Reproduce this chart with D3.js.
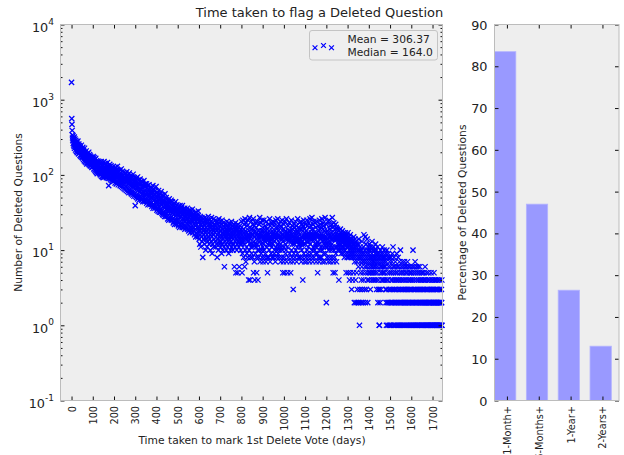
<!DOCTYPE html>
<html><head><meta charset="utf-8">
<script src="https://cdn.jsdelivr.net/npm/d3@7"></script>
<style>
body{margin:0;background:#fff;}
text{font-family:"DejaVu Sans",sans-serif;fill:#222;}
</style>
</head><body>
<svg id="c" width="624" height="455"></svg>
<script>
const chartTitle = "Time taken to flag a Deleted Question";
const xLabel = "Time taken to mark 1st Delete Vote (days)";
const yLabelLeft = "Number of Deleted Questions";
const yLabelRight = "Percentage of Deleted Questions";
const legendLines = ["Mean = 306.37", "Median = 164.0"];
const firstDay = 0;
// number of deleted questions per day (index = day)
const counts = [
1700,560,470,390,340,310,285,330,262,305,250,296,238,318,226,272,300,244,265,214,288,232,256,205,276,
228,264,198,250,218,282,208,240,190,258,222,196,246,212,230,182,236,200,224,176,214,248,188,206,172,
220,194,168,232,186,204,160,212,178,196,154,226,172,188,150,200,166,182,146,208,162,176,140,190,158,
182,146,194,160,176,140,200,156,170,136,186,152,166,132,178,148,160,130,172,144,156,126,168,140,150,
162,128,176,144,154,120,170,138,148,116,160,132,142,112,166,128,138,108,154,124,134,104,148,120,130,
152,118,136,108,148,124,132,104,144,120,128,100,140,116,122,150,96,134,112,118,94,130,108,114,92,
134,104,120,150,98,116,128,94,112,142,100,124,108,136,92,118,130,102,114,146,96,110,126,90,120,
72,116,128,96,108,138,90,104,120,86,112,132,94,106,124,84,100,118,90,110,128,82,98,114,88,
104,120,84,96,112,78,100,126,88,94,110,76,102,118,82,92,130,80,98,108,74,96,114,86,90,
100,80,88,116,72,94,106,76,86,120,70,96,102,78,84,112,68,90,98,74,82,108,66,88,94,
78,92,64,86,104,70,82,96,62,88,110,68,80,94,60,84,100,66,76,90,58,82,106,64,78,
86,62,74,98,58,80,90,56,72,94,60,76,84,54,70,102,58,74,88,52,68,92,56,72,80,
39,66,84,52,72,90,50,64,80,54,68,94,48,62,78,50,70,86,46,60,76,52,66,88,48,
64,78,50,58,82,46,62,74,48,56,80,44,60,72,50,54,84,46,58,70,44,62,76,48,56,
70,46,54,76,42,58,66,44,52,72,40,56,64,46,50,74,42,54,62,40,58,68,44,50,60,
42,56,66,38,50,60,40,48,72,36,52,58,38,46,64,40,54,56,36,48,62,38,44,70,58,
42,50,34,44,58,36,48,54,33,40,62,38,46,52,32,42,56,35,48,50,32,40,60,34,44,
48,31,40,54,30,44,46,29,38,52,32,42,44,28,36,56,30,40,46,28,38,50,31,42,36,
28,42,34,26,46,32,38,40,25,36,48,28,34,42,26,38,44,27,32,46,25,36,40,28,34,
44,26,32,38,23,34,40,24,30,42,22,36,37,25,28,44,24,33,36,22,30,40,25,34,31,
24,36,28,21,33,38,23,30,34,20,27,39,22,32,35,21,28,37,23,30,33,20,39,26,34,
22,30,35,20,26,33,24,29,36,19,27,32,21,28,34,20,25,31,23,30,36,19,26,33,22,
28,32,18,24,30,21,27,34,17,23,29,20,26,33,18,25,31,19,24,35,17,28,30,20,26,
30,18,22,28,16,25,31,19,21,27,15,24,32,17,22,29,16,26,20,28,15,23,33,18,24,
26,14,20,24,12,18,28,16,22,11,19,25,15,21,27,13,17,23,8,20,26,14,18,24,16,
22,12,19,27,15,17,24,10,20,26,14,18,23,11,16,25,19,13,21,28,15,17,22,12,20,
25,14,18,22,10,16,24,13,20,27,15,17,9,21,19,12,23,16,18,26,11,20,14,22,17,
21,13,17,25,11,19,15,23,12,18,20,8,16,24,14,19,22,10,17,26,13,15,21,12,18,
24,11,16,20,13,18,22,9,15,25,12,17,19,10,14,23,16,21,11,18,6,15,20,13,17,
22,12,16,19,10,18,24,14,15,21,11,17,20,13,16,9,23,12,18,19,14,15,22,10,17,
20,13,16,24,11,15,19,12,17,21,10,14,18,22,12,16,20,6,15,19,11,17,23,13,5,
18,14,21,10,16,19,12,15,5,22,13,17,20,11,16,6,18,14,21,12,15,19,10,17,13,
24,12,16,5,18,9,14,25,13,15,19,8,17,22,12,6,16,26,10,14,18,7,15,23,11,
17,9,21,14,8,16,25,13,15,4,18,10,16,27,12,14,4,20,8,17,11,15,24,9,16,
19,12,8,22,11,16,26,5,13,17,21,7,15,4,18,12,9,23,11,14,20,8,5,17,12,
16,24,10,4,15,18,8,14,22,10,16,27,13,7,17,15,23,12,9,18,10,16,25,8,15,
20,11,7,18,12,14,25,10,16,8,13,15,21,9,14,18,7,16,24,11,15,19,8,5,17,
12,16,22,8,14,18,10,15,26,13,7,21,12,14,17,9,15,23,11,8,18,16,12,24,14,
17,8,15,21,13,9,23,10,16,18,7,15,25,11,14,17,8,16,20,10,15,26,12,9,18,
11,16,22,8,15,20,10,14,24,12,7,21,11,15,17,8,14,25,10,16,5,13,19,7,15,
22,11,8,17,5,15,24,12,9,18,10,14,26,7,15,17,11,16,5,14,21,8,15,18,13,
16,23,9,14,18,7,15,5,17,13,25,10,16,8,21,12,15,19,7,3,17,13,9,22,12,
14,20,8,15,24,13,10,16,17,21,7,14,18,11,9,26,13,15,20,8,14,17,12,16,23,
13,8,19,11,14,24,12,7,19,10,15,22,13,8,4,21,12,16,25,9,15,19,7,14,17,
12,16,22,8,15,18,13,7,25,10,16,21,9,15,17,11,8,23,13,16,20,7,15,26,12,
14,21,9,16,17,8,15,27,10,14,19,7,16,22,11,15,24,8,14,17,10,16,23,12,9,
20,11,7,24,12,15,17,9,16,5,13,21,8,15,18,12,7,25,10,16,19,8,15,22,11,
14,20,8,16,26,10,15,7,13,19,23,11,9,21,12,15,18,7,14,27,13,9,17,11,15,
2,22,12,8,18,11,14,24,13,7,17,10,15,25,12,8,19,11,16,21,7,15,17,10,14,
22,12,8,27,11,14,20,5,16,7,23,10,15,17,8,14,5,11,19,22,9,15,20,7,14,
17,11,14,19,10,15,16,12,13,4,18,11,14,16,10,15,19,12,13,17,9,14,15,11,16,
18,10,13,15,9,14,17,11,12,16,8,13,15,10,14,17,9,12,5,15,11,13,16,8,12,
14,9,17,5,11,13,8,15,10,4,12,14,9,16,5,11,13,8,10,3,14,9,12,4,11,
13,8,10,5,15,9,12,2,7,11,14,8,10,4,13,2,9,12,5,7,11,3,8,10,2,
12,6,9,14,2,8,1,10,3,7,11,5,9,2,8,4,10,6,13,3,7,9,2,5,8,
11,4,16,7,9,3,10,6,15,2,8,5,12,7,3,9,6,14,4,8,2,10,5,7,11,
9,4,12,6,8,5,10,3,7,11,5,8,6,4,9,13,7,5,10,6,8,4,11,7,5,
8,6,10,4,7,9,5,12,6,8,4,10,3,7,9,5,11,6,2,8,4,3,7,9,1,
1,3,8,2,6,10,5,7,3,9,4,6,8,5,11,4,7,6,9,5,8,4,10,6,7,
5,8,4,6,3,9,2,7,1,3,10,4,2,8,5,1,4,9,6,2,3,8,1,7,5,
2,1,6,3,8,4,2,5,1,7,3,9,4,2,11,6,1,5,3,8,2,4,1,6,3,
7,2,5,1,4,3,9,2,6,1,5,4,2,8,3,1,6,2,4,7,1,3,5,2,10,
1,4,2,6,3,1,5,2,7,4,1,3,6,2,5,1,4,3,7,2,1,6,3,2,5,
4,1,3,6,2,5,1,7,3,2,4,1,6,2,3,5,1,4,2,6,3,1,5,2,4,
1,3,5,2,6,1,4,2,10,3,1,5,2,6,1,4,3,2,7,1,5,2,3,1,6,
2,4,1,3,5,1,2,6,3,1,4,2,5,1,3,6,2,1,4,3,2,5,1,4,2,
1,3,5,2,1,4,2,3,1,5,2,4,1,3,2,6,1,4,2,3,1,5,2,1,3,
4,1,2,3,1,5,2,1,4,2,3,1,2,4,1,3,2,1,5,2,1,3,4,1,2,
3,1,4,2,1,3,2,5,1,2,4,1,3,2,1,4,2,3,1,2,1,4,3,1,2,
1,3,2,1,4,2,1,3,1,2,4,1,2,3,1,2,1,3,2,4,1
];
const xTickValues = [0,100,200,300,400,500,600,700,800,900,1000,1100,1200,1300,1400,1500,1600,1700];
const yDecades = [0.1,1,10,100,1000,10000];
const yDecadeExponents = ["-1","0","1","2","3","4"];
const barCategories = ["1-Month+","6-Months+","1-Year+","2-Years+"];
const barPercents = [83.5,47.0,26.4,13.0];
const pctTicks = [0,10,20,30,40,50,60,70,80,90];

const svg = d3.select("#c");
const L = {x0:60.5, x1:442.5, y0:24.5, y1:400.5};
const R = {x0:494.5, x1:619, y0:24.5, y1:400.5};
const bg = "#eeeeee", edge = "#bcbcbc";

// ---------- left scatter ----------
const x = d3.scaleLinear().domain([-52,1747]).range([L.x0, L.x1]);
const y = d3.scaleLog().domain([0.1,10000]).range([L.y1, L.y0]);

svg.append("rect").attr("x",L.x0).attr("y",L.y0).attr("width",L.x1-L.x0).attr("height",L.y1-L.y0)
  .attr("fill",bg);

const pts = counts.map((v,i)=>({d:firstDay+i, v}));
const gp = svg.append("g");
const sz = 2.6;
gp.selectAll("path").data(pts).join("path")
  .attr("d",`M${-sz},${-sz}L${sz},${sz}M${-sz},${sz}L${sz},${-sz}`)
  .attr("transform",p=>`translate(${x(p.d)},${y(p.v)})`)
  .attr("stroke","#0000ff").attr("stroke-width",1.25).attr("fill","none");

// minor log ticks
const minors = [];
yDecades.slice(0,-1).forEach(dv=>{ for(let k=2;k<10;k++) minors.push(dv*k); });

function clean(g){ g.select(".domain").remove(); g.selectAll("line").attr("stroke","#111"); }

svg.append("g").attr("transform",`translate(${L.x0},0)`)
  .call(d3.axisLeft(y).tickValues(yDecades).tickSize(-4).tickFormat("")).call(clean);
svg.append("g").attr("transform",`translate(${L.x0},0)`)
  .call(d3.axisLeft(y).tickValues(minors).tickSize(-2).tickFormat("")).call(clean);
svg.append("g").attr("transform",`translate(${L.x1},0)`)
  .call(d3.axisRight(y).tickValues(yDecades).tickSize(-4).tickFormat("")).call(clean);
svg.append("g").attr("transform",`translate(${L.x1},0)`)
  .call(d3.axisRight(y).tickValues(minors).tickSize(-2).tickFormat("")).call(clean);
svg.append("g").attr("transform",`translate(0,${L.y0})`)
  .call(d3.axisTop(x).tickValues(xTickValues).tickSize(-4).tickFormat("")).call(clean);
const xb = svg.append("g").attr("transform",`translate(0,${L.y1})`)
  .call(d3.axisBottom(x).tickValues(xTickValues).tickSize(-4).tickFormat(d=>String(d))).call(clean);
xb.selectAll("text").attr("font-size","9.7px").attr("fill","#222")
  .attr("text-anchor","end").attr("dy",null).attr("y",null)
  .attr("transform","translate(3.5,5.5) rotate(-90)");

// y decade labels with superscripts
const yl = svg.append("g");
yDecades.forEach((dv,i)=>{
  const t = yl.append("text").attr("x",54).attr("y",y(dv)+7.3).attr("text-anchor","end");
  t.append("tspan").attr("font-size","12.8px").text("10");
  t.append("tspan").attr("font-size","9px").attr("dy",-7.3).text(yDecadeExponents[i]);
});

svg.append("rect").attr("x",L.x0).attr("y",L.y0).attr("width",L.x1-L.x0).attr("height",L.y1-L.y0)
  .attr("fill","none").attr("stroke",edge).attr("stroke-width",1);

// legend
const lg = svg.append("g");
lg.append("rect").attr("x",309.5).attr("y",30.5).attr("width",128).attr("height",29.5).attr("rx",2.5)
  .attr("fill","#eeeeee").attr("fill-opacity",0.9).attr("stroke","#c4c4c4");
[[315,47.7],[323.5,45.5],[331.5,47.7]].forEach(([lx,ly])=>{
  lg.append("path").attr("d",`M${lx-2.4},${ly-2.4}L${lx+2.4},${ly+2.4}M${lx-2.4},${ly+2.4}L${lx+2.4},${ly-2.4}`)
    .attr("stroke","#0000ff").attr("stroke-width",1.2);
});
legendLines.forEach((s,i)=>{
  lg.append("text").attr("x",347.5).attr("y",43.2+i*12.5).attr("font-size","10.7px").text(s);
});

// titles / labels
svg.append("text").attr("x",319.5).attr("y",17).attr("text-anchor","middle").attr("font-size","13px").text(chartTitle);
svg.append("text").attr("x",252).attr("y",443.5).attr("text-anchor","middle").attr("font-size","10.7px").text(xLabel);
svg.append("text").attr("transform",`translate(22,${(L.y0+L.y1)/2}) rotate(-90)`)
  .attr("text-anchor","middle").attr("font-size","10.7px").text(yLabelLeft);

// ---------- right bar chart ----------
const bx = d3.scaleLinear().domain([-0.39,3.52]).range([R.x0,R.x1]);
const by = d3.scaleLinear().domain([0,90]).range([R.y1,R.y0]);
svg.append("rect").attr("x",R.x0).attr("y",R.y0).attr("width",R.x1-R.x0).attr("height",R.y1-R.y0).attr("fill",bg);
const barW = 0.67;
svg.append("g").selectAll("rect").data(barPercents).join("rect")
  .attr("x",(d,i)=>bx(i-0.39)).attr("width",bx(barW)-bx(0))
  .attr("y",d=>by(d)).attr("height",d=>by(0)-by(d))
  .attr("fill","#9999ff").attr("stroke","#b4b4ff").attr("stroke-width",0.8);

const catIdx = barCategories.map((c,i)=>i);
svg.append("g").attr("transform",`translate(0,${R.y0})`)
  .call(d3.axisTop(bx).tickValues(catIdx).tickSize(-4).tickFormat("")).call(clean);
const cb = svg.append("g").attr("transform",`translate(0,${R.y1})`)
  .call(d3.axisBottom(bx).tickValues(catIdx).tickSize(-4).tickFormat(i=>barCategories[i])).call(clean);
cb.selectAll("text").attr("font-size","9.8px").attr("fill","#222")
  .attr("text-anchor","end").attr("dy",null).attr("y",null)
  .attr("transform","translate(3.5,5.5) rotate(-90)");
svg.append("g").attr("transform",`translate(${R.x0},0)`)
  .call(d3.axisLeft(by).tickValues(pctTicks).tickSize(-4).tickFormat(d=>String(d)).tickPadding(7)).call(clean)
  .selectAll("text").attr("font-size","12.8px").attr("fill","#222").attr("dy","0.36em");
svg.append("g").attr("transform",`translate(${R.x1},0)`)
  .call(d3.axisRight(by).tickValues(pctTicks).tickSize(-4).tickFormat("")).call(clean);
svg.append("rect").attr("x",R.x0).attr("y",R.y0).attr("width",R.x1-R.x0).attr("height",R.y1-R.y0)
  .attr("fill","none").attr("stroke",edge).attr("stroke-width",1);
svg.append("text").attr("transform",`translate(466,${(R.y0+R.y1)/2}) rotate(-90)`)
  .attr("text-anchor","middle").attr("font-size","10.7px").text(yLabelRight);
</script>
</body></html>
